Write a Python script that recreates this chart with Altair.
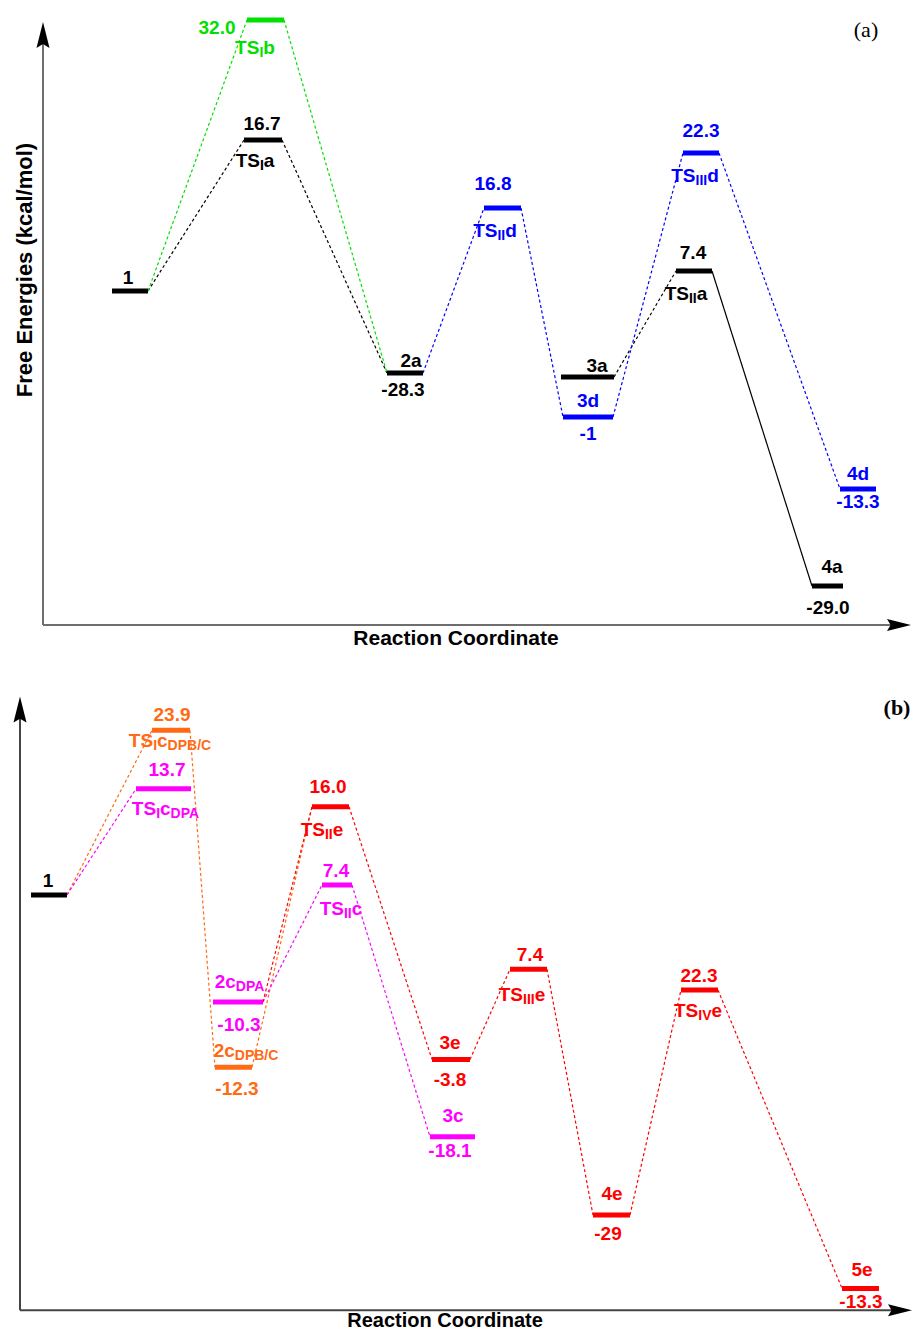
import altair as alt
import pandas as pd

BLACK, GREEN, BLUE = "#000000", "#00e000", "#0000ff"
ORANGE, MAGENTA, RED = "#ff6a13", "#ff00ff", "#ff0000"

# ---------------- Panel (a) ----------------
# levels: name, x start, x end (along reaction coordinate), height above x-axis
a_lv_name = ["1", "TSIa", "TSIb", "2a", "TSIId", "3a", "3d", "TSIIId", "TSIIa", "4d", "4a"]
a_lv_x0 = [69, 201, 204, 344, 441, 518, 520, 640, 633, 797, 769]
a_lv_x1 = [105, 239, 241, 380, 478, 571, 570, 676, 669, 833, 800]
a_lv_h = [334, 485, 605, 252, 417, 248, 208, 472, 354, 136, 39]
a_lv_col = [BLACK, BLACK, GREEN, BLACK, BLUE, BLACK, BLUE, BLUE, BLACK, BLUE, BLACK]

a_cn_from = ["1", "TSIa", "3a", "TSIIa", "1", "TSIb", "2a", "TSIId", "3d", "TSIIId"]
a_cn_to = ["TSIa", "2a", "TSIIa", "4a", "TSIb", "2a", "TSIId", "3d", "TSIIId", "4d"]
a_cn_col = [BLACK, BLACK, BLACK, BLACK, GREEN, GREEN, BLUE, BLUE, BLUE, BLUE]
a_cn_dash = [1, 1, 1, 0, 1, 1, 1, 1, 1, 1]

a_txt = ["1", "16.7", "TS_{I}a", "32.0", "TS_{I}b", "2a", "-28.3", "16.8", "TS_{II}d",
         "22.3", "TS_{III}d", "7.4", "TS_{II}a", "3a", "3d", "-1", "4d", "-13.3", "4a", "-29.0"]
a_tx = [85, 219, 212, 174, 212, 368, 360, 450, 452, 658, 652, 650, 643, 554, 545, 545, 815, 815, 789, 785]
a_th = [347, 501, 464, 597, 577, 264, 235, 441, 394, 494, 449, 372, 331, 259, 224, 191, 151, 123, 58, 17]
a_tcol = [BLACK, BLACK, BLACK, GREEN, GREEN, BLACK, BLACK, BLUE, BLUE, BLUE, BLUE, BLACK, BLACK,
          BLACK, BLUE, BLUE, BLUE, BLUE, BLACK, BLACK]

# ---------------- Panel (b) ----------------
b_lv_name = ["1", "TSIcB", "TSIcA", "TSIIe", "TSIIc", "2cA", "2cB", "3e", "3c", "TSIIIe", "TSIVe", "4e", "5e"]
b_lv_x0 = [11, 132, 116, 292, 302, 193, 195, 412, 410, 490, 661, 573, 822]
b_lv_x1 = [47, 170, 171, 329, 332, 243, 232, 450, 455, 527, 698, 610, 859]
b_lv_h = [419, 585, 526, 508, 429, 311, 245, 253, 175, 344, 323, 96, 22]
b_lv_col = [BLACK, ORANGE, MAGENTA, RED, MAGENTA, MAGENTA, ORANGE, RED, MAGENTA, RED, RED, RED, RED]

b_cn_from = ["1", "TSIcB", "2cB", "1", "2cA", "TSIIc", "2cA", "TSIIe", "3e", "TSIIIe", "4e", "TSIVe"]
b_cn_to = ["TSIcB", "2cB", "TSIIe", "TSIcA", "TSIIc", "3c", "TSIIe", "3e", "TSIIIe", "4e", "TSIVe", "5e"]
b_cn_col = [ORANGE, ORANGE, ORANGE, MAGENTA, MAGENTA, MAGENTA, RED, RED, RED, RED, RED, RED]
b_cn_dash = [1] * 12

b_txt = ["1", "23.9", "TS_{I}c_{DPB/C}", "13.7", "TS_{I}c_{DPA}", "16.0", "TS_{II}e", "7.4", "TS_{II}c",
         "2c_{DPA}", "-10.3", "2c_{DPB/C}", "-12.3", "3e", "-3.8", "3c", "-18.1", "7.4", "TS_{III}e",
         "22.3", "TS_{IV}e", "4e", "-29", "5e", "-13.3"]
b_tx = [28, 152, 150, 147, 146, 308, 302, 316, 321, 220, 219, 226, 217, 430, 430, 433, 430, 510, 502,
        679, 678, 592, 588, 842, 841]
b_th = [433, 601, 574, 545, 506, 528, 484, 443, 405, 331, 288, 261, 223, 270, 232, 196, 161, 358, 318,
        337, 302, 117, 77, 41, 8]
b_tcol = [BLACK, ORANGE, ORANGE, MAGENTA, MAGENTA, RED, RED, MAGENTA, MAGENTA, MAGENTA, MAGENTA, ORANGE,
          ORANGE, RED, RED, MAGENTA, MAGENTA, RED, RED, RED, RED, RED, RED, RED, RED]

# ---------------- helpers ----------------
MAIN_FS, SUB_FS, SUB_DROP = 19, 14, 5
WID = {"T": 611, "S": 667, "I": 278, "V": 667, "D": 722, "P": 667, "A": 722, "B": 722, "C": 722,
       "/": 278, "a": 556, "b": 611, "c": 556, "d": 611, "e": 556, ".": 278, "-": 333}


def parse(s):
    parts, i, buf = [], 0, ""
    while i < len(s):
        if s[i] == "_" and i + 1 < len(s) and s[i + 1] == "{":
            if buf:
                parts.append((buf, False))
                buf = ""
            j = s.index("}", i)
            parts.append((s[i + 2:j], True))
            i = j + 1
        else:
            buf += s[i]
            i += 1
    if buf:
        parts.append((buf, False))
    return parts


def text_rows(txts, xs, hs, cols):
    rows = []
    for t, x, h, c in zip(txts, xs, hs, cols):
        parts = parse(t)
        widths = [sum(WID.get(ch, 556) for ch in p) / 1000 * (SUB_FS if sub else MAIN_FS) for p, sub in parts]
        cur = x - sum(widths) / 2
        for (p, sub), w in zip(parts, widths):
            rows.append({"t": p, "x": cur, "h": h - SUB_DROP if sub else h,
                         "fs": SUB_FS if sub else MAIN_FS, "col": c})
            cur += w
    return pd.DataFrame(rows)


def conn_rows(names, x0s, x1s, hs, frm, to, cols, dash):
    lv = {n: (a, b, h) for n, a, b, h in zip(names, x0s, x1s, hs)}
    rows = []
    for f, t, c, d in zip(frm, to, cols, dash):
        rows.append({"xa": lv[f][1], "ha": lv[f][2], "xb": lv[t][0], "hb": lv[t][2], "col": c, "dash": d})
    return pd.DataFrame(rows)


def panel(lv_df, cn_df, tx_df, xdom, ydom, w, hgt, axis_df, arrows_v, arrows_h, titles_df, title_fs,
          title_baseline, ytitle_df, tag_df, tag_bold):
    X = lambda f: alt.X(f"{f}:Q", scale=alt.Scale(domain=xdom, nice=False, zero=False), axis=None)
    Y = lambda f: alt.Y(f"{f}:Q", scale=alt.Scale(domain=ydom, nice=False, zero=False), axis=None)
    C = alt.Color("col:N", scale=None)

    axes = alt.Chart(axis_df).mark_rule(strokeWidth=2, strokeCap="butt").encode(
        x=X("xa"), y=Y("ha"), x2="xb", y2="hb", color=C)
    up = alt.Chart(arrows_v).mark_point(shape="M0,-1L0.5,1L0,0.7L-0.5,1Z", size=676, filled=True,
                                        opacity=1, color="#000000", strokeWidth=0).encode(x=X("x"), y=Y("h"))
    right = alt.Chart(arrows_h).mark_point(shape="M1,0L-1,0.5L-0.7,0L-1,-0.5Z", size=576, filled=True,
                                           opacity=1, color="#000000", strokeWidth=0).encode(x=X("x"), y=Y("h"))
    dashed = alt.Chart(cn_df).transform_filter("datum.dash == 1").mark_rule(
        strokeWidth=1.2, strokeDash=[3, 2.5]).encode(x=X("xa"), y=Y("ha"), x2="xb", y2="hb", color=C)
    solid = alt.Chart(cn_df).transform_filter("datum.dash == 0").mark_rule(
        strokeWidth=1.2).encode(x=X("xa"), y=Y("ha"), x2="xb", y2="hb", color=C)
    levels = alt.Chart(lv_df).mark_rule(strokeWidth=5, strokeCap="butt").encode(
        x=X("x0"), x2="x1", y=Y("h"), color=C)
    texts = alt.Chart(tx_df).mark_text(align="left", baseline="middle", font="Liberation Sans",
                                       fontWeight="bold").encode(
        x=X("x"), y=Y("h"), text="t:N", size=alt.Size("fs:Q", scale=None), color=C)
    xt = alt.Chart(titles_df).mark_text(align="center", baseline=title_baseline, font="Liberation Sans",
                                        fontWeight="bold", fontSize=title_fs, color="#000000").encode(
        x=X("x"), y=Y("h"), text="t:N")
    tag = alt.Chart(tag_df).mark_text(align="center", baseline="middle", font="Liberation Serif",
                                      fontWeight="bold" if tag_bold else "normal", fontSize=22,
                                      color="#000000").encode(x=X("x"), y=Y("h"), text="t:N")
    layers = [axes, up, right, dashed, solid, levels, texts, xt, tag]
    if ytitle_df is not None:
        yt = alt.Chart(ytitle_df).mark_text(align="center", baseline="middle", font="Liberation Sans",
                                            fontWeight="bold", fontSize=22, angle=270,
                                            color="#000000").encode(x=X("x"), y=Y("h"), text="t:N")
        layers.append(yt)
    return alt.layer(*layers).properties(width=w, height=hgt)


# panel (a) frame
a_lv = pd.DataFrame({"x0": a_lv_x0, "x1": a_lv_x1, "h": a_lv_h, "col": a_lv_col})
a_cn = conn_rows(a_lv_name, a_lv_x0, a_lv_x1, a_lv_h, a_cn_from, a_cn_to, a_cn_col, a_cn_dash)
a_tx_df = text_rows(a_txt, a_tx, a_th, a_tcol)
a_axis = pd.DataFrame({"xa": [0, 0], "ha": [0, 0], "xb": [0, 860], "hb": [598, 0], "col": ["#6e6e6e", "#6e6e6e"]})
a_up = pd.DataFrame({"x": [0], "h": [590]})
a_right = pd.DataFrame({"x": [856], "h": [0]})
a_title = pd.DataFrame({"t": ["Reaction Coordinate"], "x": [413], "h": [-14]})
a_ytitle = pd.DataFrame({"t": ["Free Energies (kcal/mol)"], "x": [-18], "h": [355]})
a_tag = pd.DataFrame({"t": ["(a)"], "x": [823], "h": [595]})

# panel (b) frame
b_lv = pd.DataFrame({"x0": b_lv_x0, "x1": b_lv_x1, "h": b_lv_h, "col": b_lv_col})
b_cn = conn_rows(b_lv_name, b_lv_x0, b_lv_x1, b_lv_h, b_cn_from, b_cn_to, b_cn_col, b_cn_dash)
b_tx_df = text_rows(b_txt, b_tx, b_th, b_tcol)
b_axis = pd.DataFrame({"xa": [0, 0], "ha": [0, 0], "xb": [0, 884], "hb": [612, 0], "col": ["#444444", "#444444"]})
b_up = pd.DataFrame({"x": [0], "h": [606]})
b_right = pd.DataFrame({"x": [880], "h": [0]})
b_title = pd.DataFrame({"t": ["Reaction Coordinate"], "x": [425], "h": [-17]})
b_tag = pd.DataFrame({"t": ["(b)"], "x": [877], "h": [608]})

pa = panel(a_lv, a_cn, a_tx_df, [-35, 869], [-35, 617], 904, 652, a_axis, a_up, a_right, a_title, 21,
           "middle", a_ytitle, a_tag, False)
pb = panel(b_lv, b_cn, b_tx_df, [-12, 892], [-21, 656], 904, 671, b_axis, b_up, b_right, b_title, 20,
           "alphabetic", None, b_tag, True)

chart = alt.vconcat(pa, pb, spacing=0).properties(padding=0, bounds="flush").configure_view(stroke=None)
chart.save("out.html", embed_options={"renderer": "svg", "actions": False})
